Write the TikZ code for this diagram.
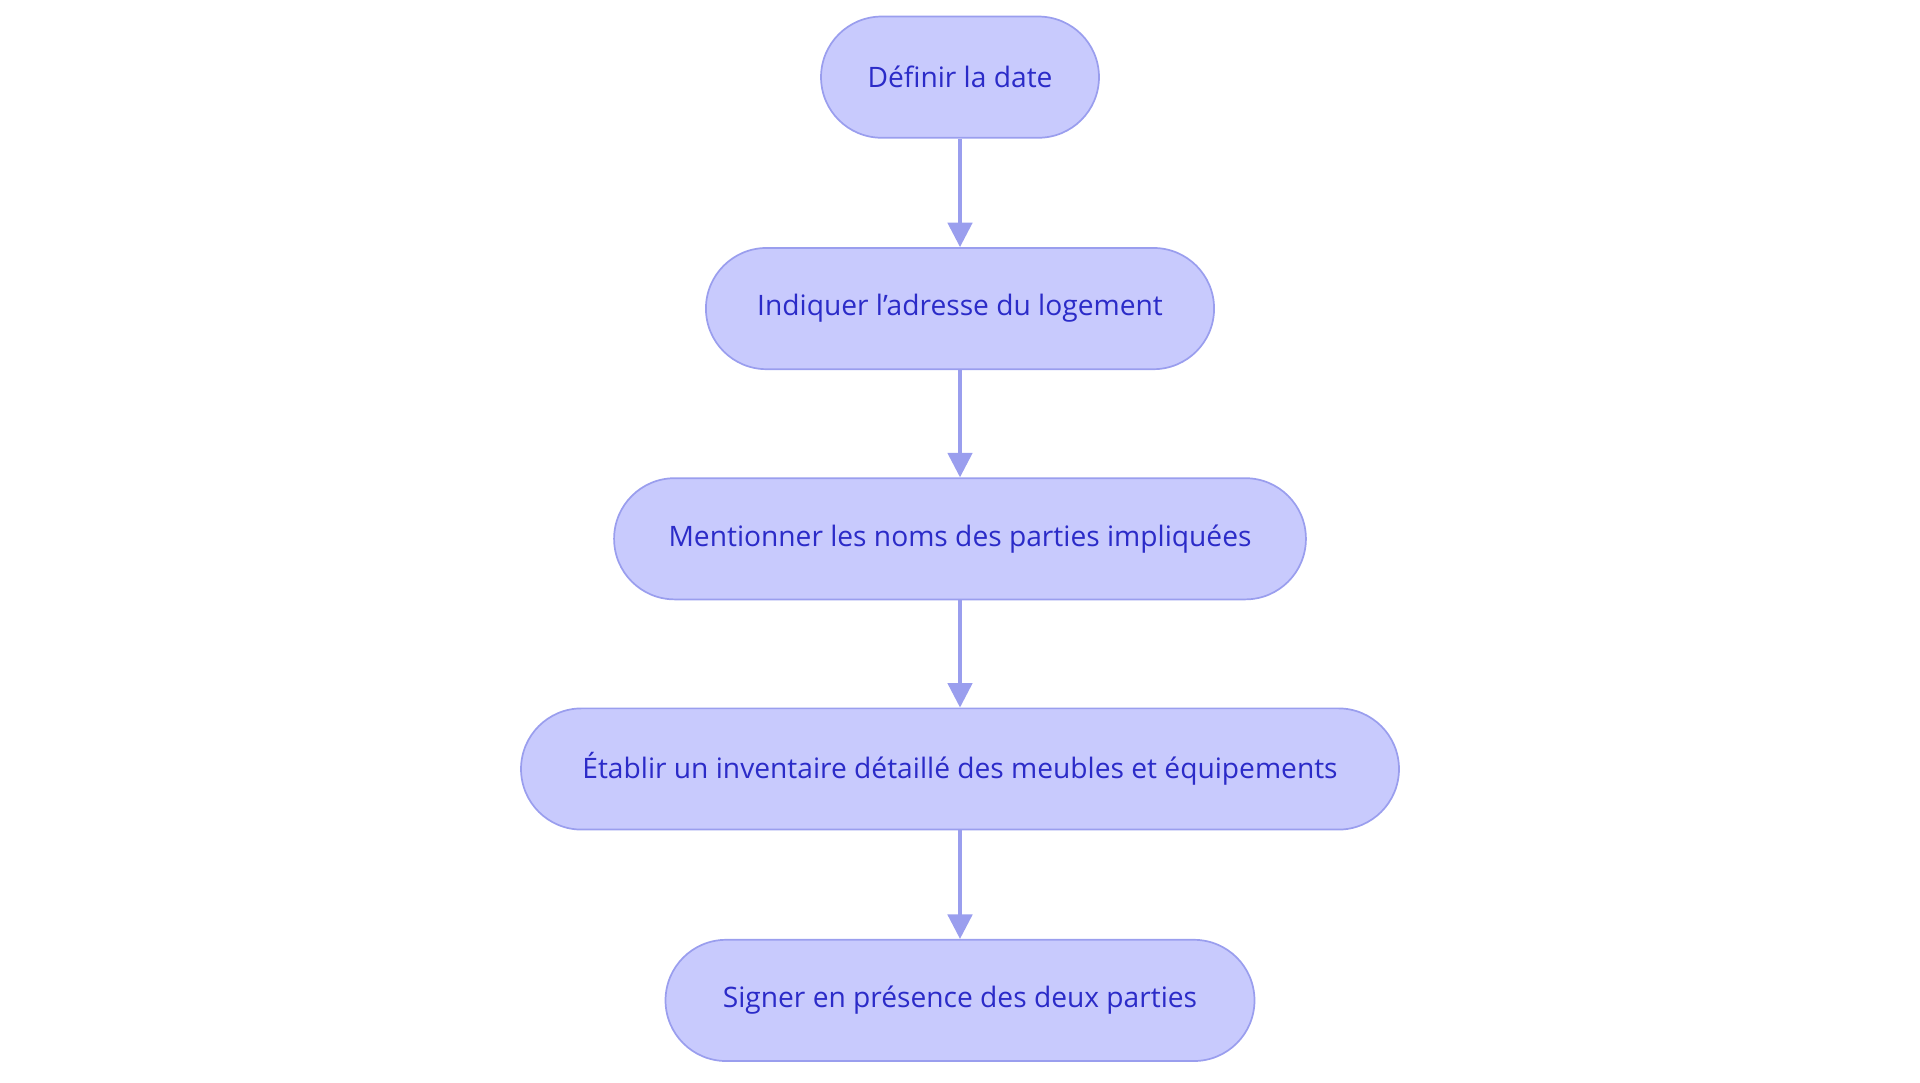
\documentclass[tikz,border=0pt]{standalone}
\usepackage{fontspec}
\setmainfont{Open Sans}
\usetikzlibrary{arrows.meta}
\definecolor{nfill}{HTML}{C8CAFD}
\definecolor{nline}{HTML}{9A9EEE}
\definecolor{ntext}{HTML}{2B2BC8}
\begin{document}
\begin{tikzpicture}[x=0.5pt,y=-0.5pt,
  box/.style={draw=nline,fill=nfill,line width=0.7pt,rounded corners=24.75pt,minimum height=49.5pt,inner sep=0pt,text=ntext,font=\fontsize{11.5}{14}\selectfont},
  arr/.style={draw=nline,line width=1.4pt,-{Triangle[length=10pt,width=10pt]}}]
\path[use as bounding box] (0,0) rectangle (1568,884);
\node[box,minimum width=113.5pt] (a) at (784,63) {Définir la date};
\node[box,minimum width=207.5pt] (b) at (784,252) {Indiquer l'adresse du logement};
\node[box,minimum width=282.5pt] (c) at (784,440) {Mentionner les noms des parties impliquées};
\node[box,minimum width=358.5pt] (d) at (784,628) {Établir un inventaire détaillé des meubles et équipements};
\node[box,minimum width=240.5pt] (e) at (784,817) {Signer en présence des deux parties};
\draw[arr] (a) -- (b);
\draw[arr] (b) -- (c);
\draw[arr] (c) -- (d);
\draw[arr] (d) -- (e);
\end{tikzpicture}
\end{document}
